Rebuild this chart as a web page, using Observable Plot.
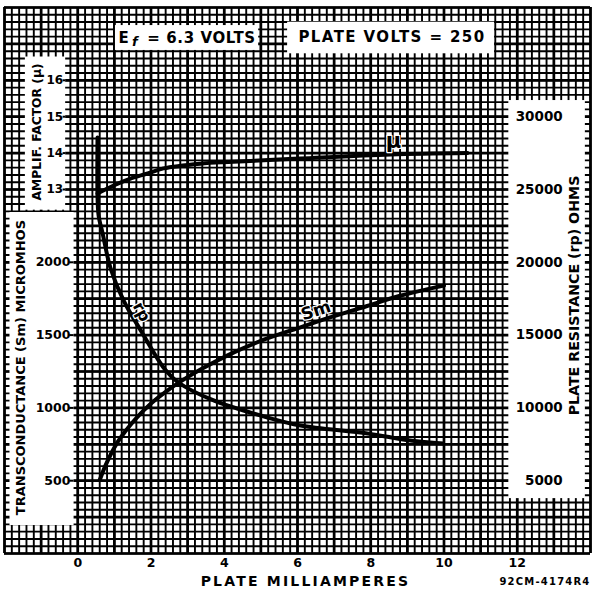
<!DOCTYPE html>
<html><head><meta charset="utf-8">
<script src="https://cdn.jsdelivr.net/npm/d3@7"></script>
<script src="https://cdn.jsdelivr.net/npm/@observablehq/plot@0.6"></script>
<style>
html,body{margin:0;padding:0;background:#fff;}
#chart svg{display:block;}
</style></head><body><div id="chart"></div>
<script>
// ---- data (plate milliamperes vs. value) ----
const gmMA = [0.60, 0.75, 0.90, 1.10, 1.30, 1.60, 2.00, 2.40, 2.80, 3.40, 4.25, 5.10, 6.10, 7.00, 7.90, 8.80, 10.00];
const gmVal = [505, 600, 680, 770, 840, 930, 1030, 1110, 1180, 1270, 1380, 1470, 1555, 1630, 1700, 1770, 1840];

const rpMA = [0.54, 0.54, 0.57, 0.68, 0.89, 1.25, 1.77, 2.34, 2.75, 3.71, 5.18, 6.08, 7.91, 9.08, 9.98];
const rpVal = [28570, 24500, 23200, 21980, 19640, 17380, 15110, 12780, 11745, 10510, 9340, 8790, 8240, 7760, 7555];

const muMA = [0.54, 0.98, 1.44, 1.91, 2.34, 3.35, 4.25, 6.08, 8.54, 10.64];
const muVal = [12.89, 13.11, 13.30, 13.44, 13.58, 13.71, 13.76, 13.85, 13.96, 14.0];

const xTicks = [0, 2, 4, 6, 8, 10, 12];
const gmTicks = [500, 1000, 1500, 2000];
const muTicks = [13, 14, 15, 16];
const rpTicks = [5000, 10000, 15000, 20000, 25000, 30000];

const xLabel = "PLATE MILLIAMPERES";
const gmLabel = "TRANSCONDUCTANCE (Sm) MICROMHOS";
const muLabel = "AMPLIF. FACTOR (\u03BC)";
const rpLabel = "PLATE RESISTANCE (rp) OHMS";
const heaterLabel = "= 6.3 VOLTS";
const plateLabel = "PLATE VOLTS = 250";
const codeLabel = "92CM-4174R4";

// The three scales share one chart grid: 1 \u03BC unit = 250 micromhos, 10 ohms = 1 micromho
const muToG = m => 2500 + (m - 13) * 250;
const rpToG = r => r / 10;

const gmData = gmMA.map((x, i) => ({x, y: gmVal[i]}));
const rpData = rpMA.map((x, i) => ({x, y: rpToG(rpVal[i])}));
const muData = muMA.map((x, i) => ({x, y: muToG(muVal[i])}));

const r5 = v => Math.round(v * 1000) / 1000;
const vMinor = d3.range(-2, 14.001, 0.2).map(r5);
const vMajor = d3.range(-2, 14.001, 1);
const hMinor = d3.range(0, 3751, 50);
const hMajor = d3.range(0, 3751, 250);

const boxes = [
  {x1: -1.43, x2: -0.33, y1: 2358, y2: 3410},   // mu scale
  {x1: -1.85, x2: -0.10, y1: 192, y2: 2342},    // Sm scale
  {x1: 11.77, x2: 13.86, y1: 377, y2: 3111},    // rp scale
  {x1: 1.03, x2: 4.94, y1: 3455, y2: 3626},     // heater
  {x1: 5.73, x2: 11.38, y1: 3432, y2: 3649}     // plate volts
];

const halo = {stroke: "white", strokeWidth: 2.5, fill: "black"};

const chart = Plot.plot({
  width: 594, height: 591,
  marginLeft: 4, marginRight: 4, marginTop: 7, marginBottom: 38,
  x: {domain: [-2, 14], axis: null},
  y: {domain: [0, 3750], axis: null},
  style: {fontFamily: "'DejaVu Sans', sans-serif", fontWeight: "bold", background: "white", color: "black"},
  marks: [
    Plot.ruleX(vMinor, {y1: 0, y2: 3750, stroke: "#000", strokeWidth: 1.9}),
    Plot.ruleY(hMinor, {x1: -2, x2: 14, stroke: "#000", strokeWidth: 1.9}),
    Plot.ruleX(vMajor, {y1: 0, y2: 3750, stroke: "#000", strokeWidth: 2.7}),
    Plot.ruleY(hMajor, {x1: -2, x2: 14, stroke: "#000", strokeWidth: 2.7}),
    Plot.rect(boxes, {x1: "x1", x2: "x2", y1: "y1", y2: "y2", fill: "white"}),
    Plot.ruleY(gmTicks, {x1: -0.22, x2: -0.10, stroke: "#000", strokeWidth: 2}),
    Plot.ruleY(muTicks.map(muToG), {x1: -0.40, x2: -0.33, stroke: "#000", strokeWidth: 2}),
    Plot.line(muData, {x: "x", y: "y", stroke: "#000", strokeWidth: 4, curve: "catmull-rom"}),
    Plot.line(gmData, {x: "x", y: "y", stroke: "#000", strokeWidth: 4, curve: "catmull-rom"}),
    Plot.line(rpData, {x: "x", y: "y", stroke: "#000", strokeWidth: 4, curve: "catmull-rom"}),
    // tick labels
    Plot.text(xTicks, {x: d => d, text: d => String(d), frameAnchor: "bottom", dy: 13, fontSize: 12.5}),
    Plot.text(gmTicks, {x: () => -0.2, y: d => d, text: d => String(d), textAnchor: "end", fontSize: 12.5}),
    Plot.text(muTicks, {x: () => -0.4, y: d => muToG(d), text: d => String(d), textAnchor: "end", fontSize: 12}),
    Plot.text(rpTicks, {x: () => 13.24, y: d => rpToG(d), text: d => String(d), textAnchor: "end", fontSize: 13.5}),
    // axis titles
    Plot.text([xLabel], {frameAnchor: "bottom", dx: 8, dy: 32, fontSize: 14}),
    Plot.text([codeLabel], {frameAnchor: "bottom-right", textAnchor: "end", dy: 31, fontSize: 10}),
    Plot.text([gmLabel], {x: () => -1.56, y: () => 1277, rotate: -90, fontSize: 13}),
    Plot.text([muLabel], {x: () => -1.10, y: () => 2895, rotate: -90, fontSize: 12.3}),
    Plot.text([rpLabel], {x: () => 13.55, y: () => 1772, rotate: -90, fontSize: 14.2}),
    // header labels
    Plot.text(["E"], {x: () => 1.115, y: () => 3541, textAnchor: "start", fontSize: 15}),
    Plot.text(["f"], {x: () => 1.48, y: () => 3512, textAnchor: "start", fontSize: 13, fontStyle: "italic"}),
    Plot.text([heaterLabel], {x: () => 1.90, y: () => 3541, textAnchor: "start", fontSize: 15}),
    Plot.text([plateLabel], {x: () => 8.58, y: () => 3544, fontSize: 15}),
    // curve labels
    Plot.text(["\u03BC"], {x: () => 8.62, y: () => muToG(14.32), fontSize: 21, ...halo}),
    Plot.text(["Sm"], {x: () => 6.50, y: () => 1668, rotate: -18, fontSize: 17, ...halo}),
    Plot.text(["rp"], {x: () => 1.74, y: () => rpToG(16600), rotate: 62, fontSize: 16, ...halo})
  ]
});
document.getElementById("chart").appendChild(chart);
const spacing = {"PLATE MILLIAMPERES": 2.2, "PLATE VOLTS = 250": 1.4, "= 6.3 VOLTS": 0.6, "92CM-4174R4": 1.2};
d3.select(chart).selectAll("text").each(function () {
  const s = spacing[this.textContent];
  if (s) this.setAttribute("letter-spacing", s);
});
</script></body></html>
